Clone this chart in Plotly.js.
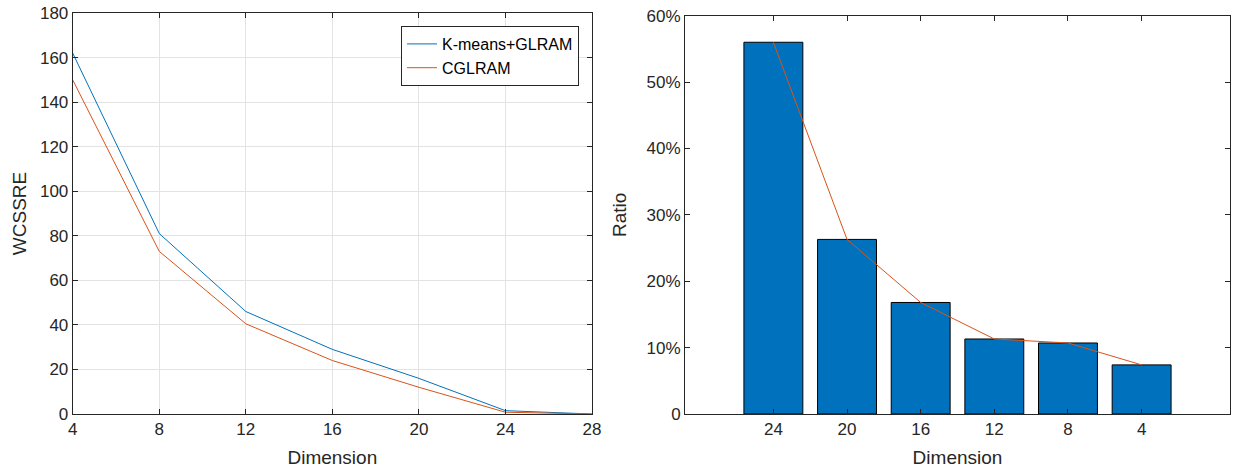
<!DOCTYPE html>
<html>
<head>
<meta charset="utf-8">
<script src="https://cdn.plot.ly/plotly-3.0.1.min.js"></script>
<style>html,body{margin:0;padding:0;background:#fff;}#chart{width:1242px;height:470px;}</style>
</head>
<body>
<div id="chart"></div>
<script>
// Left panel data
var dims = [4, 8, 12, 16, 20, 24, 28];
var kmeansGlram = [162, 81, 46, 29, 16, 1.5, 0];
var cglram = [150, 73, 40.5, 24, 12, 0.8, 0];
var lineTicks = [4, 8, 12, 16, 20, 24, 28];
var wcssreTicks = [0, 20, 40, 60, 80, 100, 120, 140, 160, 180];

// Right panel data
var barPositions = [1, 2, 3, 4, 5, 6];
var barLabels = ['24', '20', '16', '12', '8', '4'];
var ratios = [0.56, 0.263, 0.168, 0.113, 0.107, 0.074];
var ratioTickVals = [0, 0.1, 0.2, 0.3, 0.4, 0.5, 0.6];
var ratioTickText = ['0', '10%', '20%', '30%', '40%', '50%', '60%'];

var W = 1242, H = 470;
var fontFam = 'Liberation Sans, Arial, Helvetica, sans-serif';
var txt = '#262626';
var blue = '#0072BD', orange = '#D95319';

var traces = [
  {x: dims, y: kmeansGlram, type: 'scatter', mode: 'lines', name: 'K-means+GLRAM',
   line: {color: blue, width: 1}, xaxis: 'x', yaxis: 'y'},
  {x: dims, y: cglram, type: 'scatter', mode: 'lines', name: 'CGLRAM',
   line: {color: orange, width: 1}, xaxis: 'x', yaxis: 'y'},
  {x: barPositions, y: ratios, type: 'bar', width: 0.8, showlegend: false,
   marker: {color: blue, line: {color: '#000', width: 1}}, xaxis: 'x2', yaxis: 'y2'},
  {x: barPositions, y: ratios, type: 'scatter', mode: 'lines', showlegend: false,
   line: {color: orange, width: 1}, xaxis: 'x2', yaxis: 'y2'}
];

var axBase = {
  showline: true, linecolor: txt, linewidth: 1, mirror: 'ticks',
  ticks: 'inside', ticklen: 5, tickcolor: txt, tickwidth: 1,
  tickfont: {family: fontFam, size: 17, color: txt},
  zeroline: false
};

function ax(extra) { return Object.assign({}, axBase, extra); }

var titleFont = {family: fontFam, size: 19, color: txt};

var layout = {
  width: W, height: H,
  margin: {l: 0, r: 0, t: 0, b: 0},
  paper_bgcolor: '#fff', plot_bgcolor: '#fff',
  font: {family: fontFam, color: txt},
  bargap: 0,
  xaxis: ax({domain: [72.7 / W, 592 / W], range: [4, 28], tickvals: lineTicks,
    showgrid: true, gridcolor: '#e3e3e3', anchor: 'y',
    title: {text: 'Dimension', font: titleFont, standoff: 12}}),
  yaxis: ax({domain: [1 - 414 / H, 1 - 13 / H], range: [0, 180], tickvals: wcssreTicks,
    showgrid: true, gridcolor: '#e3e3e3', anchor: 'x',
    title: {text: 'WCSSRE', font: titleFont, standoff: 8}}),
  xaxis2: ax({domain: [685 / W, 1230 / W], range: [-0.2, 7.2], tickvals: barPositions,
    ticktext: barLabels, showgrid: false, anchor: 'y2',
    title: {text: 'Dimension', font: titleFont, standoff: 12}}),
  yaxis2: ax({domain: [1 - 414 / H, 1 - 15.7 / H], range: [0, 0.6], tickvals: ratioTickVals,
    ticktext: ratioTickText, showgrid: false, anchor: 'x2',
    title: {text: 'Ratio', font: titleFont, standoff: 14}}),
  legend: {x: 579 / W, xanchor: 'right', y: 1 - 26 / H, yanchor: 'top',
    bgcolor: '#fff', bordercolor: txt, borderwidth: 1,
    font: {family: fontFam, size: 16, color: '#000'}, tracegroupgap: 0}
};

Plotly.newPlot('chart', traces, layout, {displayModeBar: false, staticPlot: true});
</script>
</body>
</html>
